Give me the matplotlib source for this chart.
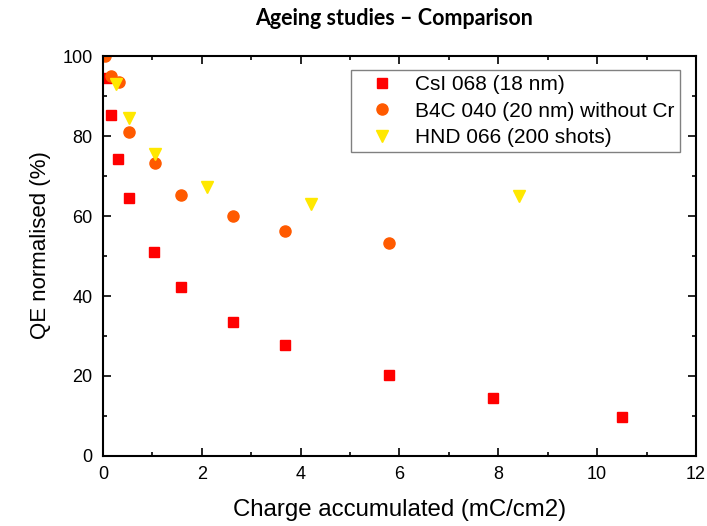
import matplotlib.pyplot as plt
from matplotlib.ticker import MultipleLocator

# CsI 068 (18 nm)
csiCharge = [0.08, 0.155, 0.31, 0.53, 1.03, 1.58, 2.63, 3.68, 5.78, 7.89, 10.51]
csiQE = [94.6, 85.2, 74.2, 64.4, 51.0, 42.3, 33.6, 27.7, 20.2, 14.4, 9.8]

# B4C 040 (20 nm) without Cr
b4cCharge = [0.05, 0.155, 0.33, 0.53, 1.05, 1.57, 2.63, 3.68, 5.78]
b4cQE = [100.0, 95.0, 93.4, 81.0, 73.2, 65.3, 60.1, 56.3, 53.2]

# HND 066 (200 shots)
hndCharge = [0.26, 0.53, 1.05, 2.1, 4.2, 8.41]
hndQE = [92.9, 84.6, 75.5, 67.3, 62.9, 65.1]

plt.rcParams['font.family'] = ['Liberation Sans', 'DejaVu Sans']

fig = plt.figure(figsize=(7.07, 5.26), dpi=100)
ax = fig.add_axes([0.1457, 0.1331, 0.8387, 0.7604])

ax.plot(csiCharge, csiQE, 's', color='#ff0000', markersize=6.5, label='CsI 068 (18 nm)')
ax.plot(b4cCharge, b4cQE, 'o', color='#ff5a00', markersize=8, label='B4C 040 (20 nm) without Cr')
ax.plot(hndCharge, hndQE, 'v', color='#ffe800', markersize=9, label='HND 066 (200 shots)')

ax.set_xlim(0, 12)
ax.set_ylim(0, 100)
ax.xaxis.set_major_locator(MultipleLocator(2))
ax.xaxis.set_minor_locator(MultipleLocator(1))
ax.yaxis.set_major_locator(MultipleLocator(20))
ax.yaxis.set_minor_locator(MultipleLocator(10))
ax.tick_params(which='both', direction='in', top=True, right=True, width=1.2, labelsize=13)
ax.tick_params(which='major', length=6, pad=7.5)
ax.tick_params(which='minor', length=3)
for s in ax.spines.values():
    s.set_linewidth(1.5)

ax.set_xlabel('Charge accumulated (mC/cm2)', fontsize=17.3)
ax.xaxis.set_label_coords(0.5, -0.108)
ax.set_ylabel('QE normalised (%)', fontsize=16)
ax.yaxis.set_label_coords(-0.087, 0.5275)

leg = ax.legend(loc='upper right', bbox_to_anchor=(0.973, 0.965), borderaxespad=0, fontsize=15,
                fancybox=False, edgecolor='#808080', framealpha=1, handlelength=2.45,
                handletextpad=0.4, borderpad=0.25, labelspacing=0.36)
leg.get_frame().set_linewidth(1)

fig.text(0.558, 0.965, 'Ageing studies \u2013 Comparison', ha='center', va='center',
         fontsize=15.5, fontweight='bold', family=['Lato', 'DejaVu Sans'])

fig.savefig('out.png', dpi=100)
